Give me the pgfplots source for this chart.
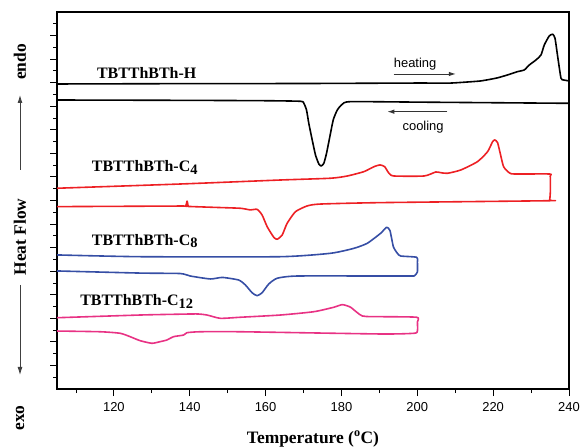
\documentclass[border=0pt]{standalone}
\usepackage{pgfplots}
\pgfplotsset{compat=1.18}
\usepackage{fontspec}
\setmainfont{Liberation Serif}
\newfontfamily\arial{Liberation Sans}
\usetikzlibrary{arrows.meta}
\definecolor{cRed}{RGB}{237,32,36}
\definecolor{cBlue}{RGB}{54,78,165}
\definecolor{cPink}{RGB}{232,50,132}
\newcommand{\lblfont}{\bfseries\fontsize{16}{16}\selectfont}
\newcommand{\axfont}{\bfseries\fontsize{17.5}{17.5}\selectfont}
\newcommand{\sub}[1]{\raisebox{-0.4ex}{\fontsize{14.5}{14.5}\selectfont #1}}
\begin{document}
\begin{tikzpicture}
\begin{axis}[
  scale only axis, width=512bp, height=377bp,
  xmin=105, xmax=240, ymin=0, ymax=32,
  clip mode=individual,
  xtick={120,140,...,240}, minor xtick={110,130,...,230},
  ytick={2,4,...,30}, minor ytick={1,3,...,31}, yticklabels={},
  tick align=outside, xtick pos=bottom, ytick pos=left,
  major tick length=7bp, minor tick length=4bp,
  axis line style={line width=1.1pt},
  every tick/.style={line width=0.9pt, black},
  /pgf/number format/assume math mode=true,
  xticklabel style={font=\arial\fontsize{13}{13}\selectfont, yshift=-3bp},
  xlabel={\axfont Temperature (\textsuperscript{o}C)},
  xlabel style={at={(axis description cs:0.5,0)}, anchor=base, yshift=-54bp},
  every axis plot/.append style={line width=1.6bp, line join=round, smooth, tension=0.35},
]
% TBTThBTh-H heating
\addplot[black] coordinates {(105,25.89) (140,25.92) (170,25.93) (200,25.97) (207.96,25.96) (211.5,26.02) (216.76,26.15) (221,26.4) (223.81,26.66) (226.45,26.94) (228.20,27.08) (229.52,27.50) (231.29,27.93) (232.61,28.35) (233.48,29.20) (234.80,29.97) (235.70,30.11) (236.31,29.77) (237.02,28.21) (237.89,26.38) (238.61,26.23) (240,26.15)};
% TBTThBTh-H cooling
\addplot[black] coordinates {(105,24.53) (140,24.50) (160,24.47) (169.2,24.42) (170.08,24.25) (170.79,23.68) (171.39,22.55) (172.29,21.14) (173.16,19.86) (174.04,19.10) (174.67,18.93) (175.36,19.16) (176.07,20.01) (176.94,21.42) (177.84,22.84) (178.90,23.68) (180.22,24.17) (182.41,24.39) (200,24.35) (220,24.30) (240,24.25)};
% C4
\addplot[cRed] coordinates {(105,17.04) (137.5,17.40) (163.92,17.74) (177.13,17.89) (181.54,18.08) (185.92,18.45) (188.57,18.87) (190.15,19.02) (191.39,18.87) (192.53,18.31) (193.85,18.08) (201.78,18.08) (204.87,18.42) (206.19,18.36) (207.96,18.31) (211.47,18.59) (215.88,19.30) (218.53,20.14) (219.85,20.99) (220.46,21.14) (221.17,20.91) (221.86,20.01) (222.75,18.87) (224.23,18.36) (225.55,18.25) (234.8,18.25) (235.06,18.08) (235.1,16.89) (234.9,16.04) (234.38,15.98) (190.34,15.82) (174.49,15.70) (170.97,15.54) (167.88,15.05) (165.69,14.07) (164.37,13.07) (163.05,12.71) (162.15,12.88) (160.41,13.78) (159.08,14.77) (157.76,15.25) (155.99,15.20) (153.35,15.34) (146.30,15.42) (140.14,15.49) (139.6,15.52) (139.3,15.95) (138.9,15.52) (137.5,15.53) (105,15.48)};
% C8
\addplot[cBlue] coordinates {(105,11.38) (126.93,11.23) (163.92,11.23) (177.13,11.52) (183.28,11.94) (186.82,12.37) (190.34,13.22) (191.92,13.73) (192.80,13.44) (193.69,12.08) (194.75,11.52) (195.62,11.29) (199.85,11.18) (200.03,10.78) (200.03,9.93) (199.32,9.64) (198.71,9.59) (190.34,9.59) (168.33,9.59) (163.05,9.40) (160.83,8.91) (159.08,8.17) (157.76,7.92) (156.44,8.17) (154.67,8.83) (152.90,9.25) (148.59,9.47) (145.42,9.34) (140.14,9.59) (137.5,9.80) (126.93,9.84) (105,10.02)};
% C12
\addplot[cPink] coordinates {(105,6.05) (126.93,6.28) (135.73,6.34) (141.91,6.37) (144.55,6.28) (148.07,6.00) (153.35,6.09) (163.92,6.28) (172.72,6.56) (178.0,6.94) (180.22,7.16) (182.41,6.94) (185.50,6.20) (190.34,6.14) (199.85,6.09) (200.03,5.69) (200.03,4.92) (199.13,4.73) (190.34,4.67) (153.35,4.86) (142.78,4.86) (139.27,4.78) (138.37,4.58) (135.73,4.44) (133.98,4.16) (132.21,4.02) (130.02,3.88) (126.93,4.10) (124.29,4.44) (121.65,4.73) (116.36,4.86) (105,4.92)};
% labels
\node[anchor=base west, inner sep=0pt, font=\lblfont] at (axis cs:115.5,26.38) {TBTThBTh-H};
\node[anchor=base west, inner sep=0pt, font=\lblfont] at (axis cs:114.17,18.45) {TBTThBTh-C\sub{4}};
\node[anchor=base west, inner sep=0pt, font=\lblfont] at (axis cs:114.17,12.22) {TBTThBTh-C\sub{8}};
\node[anchor=base west, inner sep=0pt, font=\lblfont] at (axis cs:111.08,7.05) {TBTThBTh-C\sub{12}};
\node[anchor=base west, inner sep=0pt, font=\arial\fontsize{13}{13}\selectfont] at (axis cs:193.77,27.33) {heating};
\node[anchor=base west, inner sep=0pt, font=\arial\fontsize{13}{13}\selectfont] at (axis cs:196.07,21.95) {cooling};
\draw[black!80, line width=0.9pt, -{Latex[length=7bp,width=4.5bp]}] (axis cs:193.77,26.74) -- (axis cs:210.15,26.74);
\draw[black!80, line width=0.9pt, -{Latex[length=7bp,width=4.5bp]}] (axis cs:207.96,23.54) -- (axis cs:192.11,23.54);
\end{axis}
% y label (outside the axis box)
\node[rotate=90, font=\axfont] at (-37bp,327bp) {endo};
\node[rotate=90, font=\axfont] at (-37bp,152bp) {Heat Flow};
\node[rotate=90, font=\axfont] at (-37bp,-29bp) {exo};
\draw[black!75, line width=0.9pt, -{Latex[length=8bp,width=5bp]}] (-37bp,219bp) -- (-37bp,294bp);
\draw[black!75, line width=0.9pt, -{Latex[length=8bp,width=5bp]}] (-37bp,104bp) -- (-37bp,14bp);
\pgfresetboundingbox
\path (-57bp,-58bp) rectangle (524bp,389bp);
\end{tikzpicture}
\end{document}
